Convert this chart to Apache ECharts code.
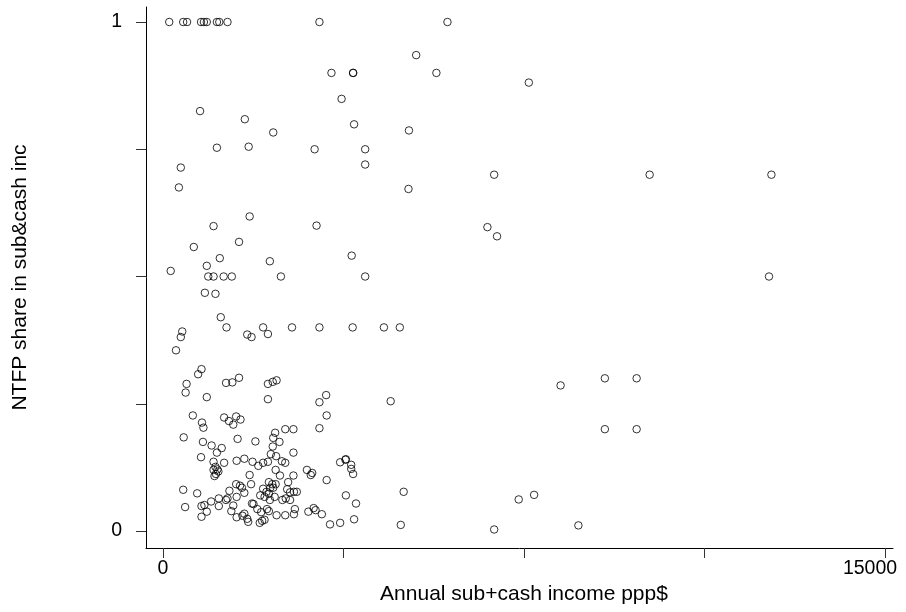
<!DOCTYPE html>
<html>
<head>
<meta charset="utf-8">
<script src="https://cdn.jsdelivr.net/npm/echarts@6/dist/echarts.min.js"></script>
<style>
  html, body { margin: 0; padding: 0; background: #fff; }
  #chart { width: 906px; height: 612px; }
</style>
</head>
<body>
<div id="chart"></div>
<script>
// Household annual subsistence + cash income (ppp$) and the NTFP share of it
const income = [
  130, 420, 500, 790, 850, 910, 1120, 1170, 1340, 3250, 5910,
  5260, 3500, 3950, 3950, 5680, 7600, 3710, 770, 1700, 3970, 2290, 5110,
  1120, 1780, 3150, 4200, 4200, 370, 330, 5100, 6880, 10110, 12640,
  1800, 1050, 3190, 6740, 6940, 640, 1580, 1180, 910, 2220, 3920, 160,
  940, 1050, 1260, 1430, 2450, 4200, 12590,
  870, 1090, 1200,
  1320, 2080, 2680, 3250, 3940, 4590, 4920,
  400, 370, 270, 1750, 1840, 2180, 800, 730, 490, 470, 1310, 1440, 1580,
  2180, 2280, 2360, 910, 2180, 8260, 9180, 9840, 9180, 9840,
  3390, 3250, 4730, 3400, 3250,
  620, 810, 840, 1270, 1370, 1460, 1520, 1610, 430, 830, 1010, 1120, 1220,
  1550, 1920, 2330, 2290, 2540, 2710, 2420, 2280, 2710,
  790, 1050, 1270, 1090, 1130, 1050, 1150, 1100, 1070, 1530, 1690, 1860,
  1980, 2080, 2180, 2240, 2350, 2470, 2540, 2340, 2430, 2710, 1800,
  1830, 1520, 1600, 1640, 1690, 2200, 2270, 2340, 2230, 2080, 2150, 2290,
  2600, 2580, 2640, 2780, 420, 710, 1380, 1530, 1340, 1310, 1160, 1160, 1000,
  2020, 2110, 2200, 2320, 2220, 2480, 2550, 2640, 2720,
  460, 800, 860, 910, 800, 1460, 1420, 1530, 1650, 1690, 1750, 1770,
  1850, 1880, 1960, 2040, 2200, 2160, 2010, 2060, 2110, 2360, 2540, 2720, 2740,
  2990, 3070, 3100, 3400, 3680, 3790, 3800, 3910, 3910, 3950, 3800, 4010, 5000,
  3020, 3130, 3170, 3300, 3470, 3680, 3970, 4940,
  7390, 7710, 6880, 8630
];
const share = [
  1, 1, 1, 1, 1, 1, 1, 1, 1, 1, 1,
  0.935, 0.9, 0.9, 0.9, 0.9, 0.881, 0.849, 0.825, 0.809, 0.799, 0.783, 0.787,
  0.753, 0.755, 0.75, 0.75, 0.72, 0.714, 0.675, 0.672, 0.7, 0.7, 0.7,
  0.618, 0.599, 0.6, 0.597, 0.579, 0.558, 0.568, 0.536, 0.521, 0.53, 0.541, 0.511,
  0.5, 0.5, 0.5, 0.5, 0.5, 0.5, 0.5,
  0.468, 0.466, 0.42,
  0.4, 0.4, 0.4, 0.4, 0.4, 0.4, 0.4,
  0.392, 0.381, 0.355, 0.386, 0.381, 0.387, 0.318, 0.308, 0.289, 0.272, 0.291, 0.292, 0.301,
  0.289, 0.293, 0.296, 0.263, 0.259, 0.286, 0.3, 0.3, 0.2, 0.2,
  0.267, 0.253, 0.255, 0.227, 0.202,
  0.227, 0.213, 0.203, 0.223, 0.216, 0.209, 0.225, 0.219, 0.184, 0.175, 0.168, 0.154, 0.163,
  0.181, 0.176, 0.193, 0.183, 0.2, 0.2, 0.175, 0.166, 0.154,
  0.145, 0.136, 0.134, 0.126, 0.121, 0.12, 0.117, 0.112, 0.108, 0.138, 0.142, 0.136,
  0.128, 0.134, 0.136, 0.151, 0.147, 0.137, 0.134, 0.12, 0.109, 0.109, 0.11,
  0.092, 0.092, 0.089, 0.085, 0.075, 0.096, 0.092, 0.092, 0.085, 0.083, 0.077, 0.085,
  0.096, 0.082, 0.076, 0.077, 0.081, 0.074, 0.079, 0.067, 0.064, 0.061, 0.064, 0.049, 0.058,
  0.07, 0.067, 0.073, 0.067, 0.061, 0.061, 0.064, 0.061, 0.077,
  0.047, 0.049, 0.051, 0.038, 0.028, 0.05, 0.039, 0.027, 0.03, 0.034, 0.024, 0.018,
  0.054, 0.053, 0.043, 0.037, 0.039, 0.043, 0.016, 0.02, 0.022, 0.031, 0.031, 0.033, 0.043,
  0.12, 0.11, 0.114, 0.1, 0.135, 0.14, 0.141, 0.13, 0.122, 0.112, 0.07, 0.054, 0.077,
  0.038, 0.045, 0.041, 0.033, 0.013, 0.016, 0.023, 0.012,
  0.062, 0.071, 0.003, 0.011
];

// Tick marks and the ticks that carry a label
const xTicks = [0, 3750, 7500, 11250, 15000];
const xTickLabels = [0, 15000];
const yTicks = [0, 0.25, 0.5, 0.75, 1];
const yTickLabels = [0, 1];

const points = income.map((v, i) => [v, share[i]]);

// Axes run a little past the data range so the two axis lines meet at a corner
const xMin = -353, xMax = 15166;
const yMin = -0.0334, yMax = 1.0295;

const font = 'Liberation Sans, Arial, sans-serif';
const chart = echarts.init(document.getElementById('chart'), null, { renderer: 'canvas' });
chart.setOption({
  animation: false,
  backgroundColor: '#fff',
  grid: { left: 146, right: 13, top: 7, bottom: 64, containLabel: false, outerBoundsMode: 'none' },
  xAxis: {
    type: 'value', min: xMin, max: xMax,
    splitLine: { show: false },
    axisLine: { onZero: false, lineStyle: { color: '#000', width: 1 } },
    axisTick: { customValues: xTicks, length: 10, lineStyle: { color: '#333', width: 1 } },
    axisLabel: {
      customValues: xTickLabels,
      // the last label is pulled inward so it stays inside the page
      formatter: v => (v === xTickLabels[xTickLabels.length - 1] ? '{end|' + v + '}' : String(v)),
      rich: { end: { padding: [0, 30, 0, 0], fontSize: 19.5, color: '#000', fontFamily: font } },
      margin: 11, fontSize: 19.5, color: '#000', fontFamily: font, hideOverlap: false
    },
    name: 'Annual sub+cash income ppp$', nameLocation: 'middle', nameGap: 30,
    nameTextStyle: { fontSize: 21, color: '#000', fontFamily: font, padding: [0, 0, 0, 9] }
  },
  yAxis: {
    type: 'value', min: yMin, max: yMax,
    splitLine: { show: false },
    axisLine: { onZero: false, lineStyle: { color: '#000', width: 1 } },
    axisTick: { customValues: yTicks, length: 10, lineStyle: { color: '#333', width: 1 } },
    axisLabel: { customValues: yTickLabels, formatter: v => String(v), margin: 24,
      fontSize: 19.5, color: '#000', fontFamily: font },
    name: 'NTFP share in sub&cash inc', nameLocation: 'middle', nameGap: 115,
    nameTextStyle: { fontSize: 21, color: '#000', fontFamily: font }
  },
  series: [{
    type: 'scatter',
    data: points,
    symbol: 'circle',
    symbolSize: 7.5,
    itemStyle: { color: 'rgba(0,0,0,0)', borderColor: '#000', borderWidth: 1 },
    emphasis: { disabled: true }
  }]
});
</script>
</body>
</html>
